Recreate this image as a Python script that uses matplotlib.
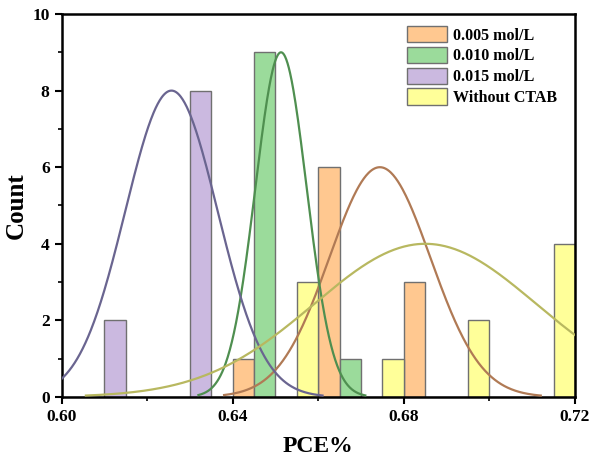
import matplotlib
matplotlib.use("Agg")
import matplotlib.pyplot as plt
import numpy as np
from matplotlib.ticker import MultipleLocator

plt.rcParams["font.family"] = ["Liberation Serif", "DejaVu Serif"]
plt.rcParams["font.weight"] = "bold"

# histogram bins (width 0.02), four series side by side in each bin
bin_starts = [0.60, 0.62, 0.64, 0.66, 0.68, 0.70]
labels = ["0.005 mol/L", "0.010 mol/L", "0.015 mol/L", "Without CTAB"]
counts_005 = [0, 0, 1, 6, 3, 0]
counts_010 = [0, 0, 9, 1, 0, 0]
counts_015 = [2, 8, 0, 0, 0, 0]
counts_none = [0, 0, 3, 1, 2, 4]

# normal fit curves: mean, sigma, peak, drawn range
fit_mean = [0.6744, 0.6513, 0.6257, 0.685]
fit_sigma = [0.0118, 0.0060, 0.0108, 0.0260]
fit_peak = [6, 9, 8, 4]
fit_lo = [0.638, 0.632, 0.598, 0.6057]
fit_hi = [0.712, 0.671, 0.661, 0.722]

bar_colors = ["#ffc890", "#9bdb9b", "#cbb9e0", "#ffff99"]
line_colors = ["#b07a55", "#4f8f50", "#6a6590", "#b8b860"]

fig = plt.figure(figsize=(5.89, 4.59), dpi=100)
ax = fig.add_axes([61.5 / 589, 1 - 397 / 459, (575 - 61.5) / 589, (397 - 14) / 459])

bw = 0.005
all_counts = [counts_005, counts_010, counts_015, counts_none]
for i, cnt in enumerate(all_counts):
    xs = np.array(bin_starts) + i * bw
    ax.bar(xs, cnt, width=bw, align="edge", color=bar_colors[i],
           edgecolor="#707070", linewidth=1.0, label=labels[i], zorder=2)

for i in range(4):
    x = np.linspace(fit_lo[i], fit_hi[i], 400)
    y = fit_peak[i] * np.exp(-(x - fit_mean[i]) ** 2 / (2 * fit_sigma[i] ** 2))
    ax.plot(x, y, color=line_colors[i], lw=1.6, zorder=3)

ax.set_xlim(0.60, 0.72)
ax.set_ylim(0, 10)
ax.set_xticks([0.60, 0.64, 0.68, 0.72])
ax.set_xticklabels(["0.60", "0.64", "0.68", "0.72"])
ax.xaxis.set_minor_locator(MultipleLocator(0.02))
ax.yaxis.set_major_locator(MultipleLocator(2))
ax.yaxis.set_minor_locator(MultipleLocator(1))
ax.tick_params(which="major", direction="out", length=5, width=1.5, labelsize=12.5)
ax.tick_params(which="minor", direction="out", length=3, width=1.2)
for lab in ax.get_xticklabels() + ax.get_yticklabels():
    lab.set_fontweight("bold")
for s in ax.spines.values():
    s.set_linewidth(1.8)

ax.set_xlabel("PCE%", fontsize=17, fontweight="bold", labelpad=8)
ax.set_ylabel("Count", fontsize=18, fontweight="bold", labelpad=3)

leg = ax.legend(loc="upper right", bbox_to_anchor=(1 - 6 / 513, 1), frameon=False,
                handlelength=2.45, handleheight=1.2, handletextpad=0.4,
                labelspacing=0.2, borderaxespad=0.45, borderpad=0.3,
                prop={"weight": "bold", "size": 11.5})

fig.savefig("out.png", dpi=100)
